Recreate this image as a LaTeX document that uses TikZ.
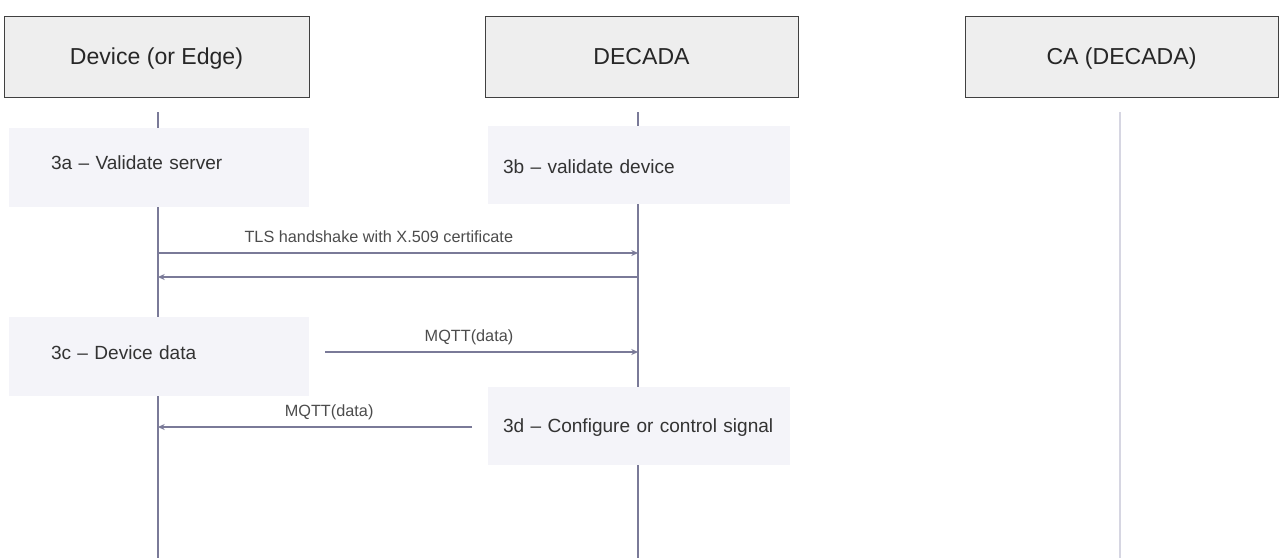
\documentclass[tikz,border=0pt]{standalone}
\usepackage{fontspec}
\setmainfont{Liberation Sans}
\usetikzlibrary{arrows.meta, positioning}
\definecolor{lineblue}{HTML}{7A7A98}
\definecolor{lightline}{HTML}{D6D6E2}
\definecolor{headfill}{HTML}{EEEEEE}
\definecolor{notefill}{HTML}{F4F4F9}

\begin{document}
\begin{tikzpicture}[
    x=0.75pt, y=-0.75pt,
    node distance=132pt,
    participant/.style={draw=black!75, line width=0.75pt, fill=headfill, minimum height=60.75pt, inner sep=0pt, outer sep=0pt, text height=12pt, text depth=0pt, font=\fontsize{17.3}{20}\selectfont, text=black!85},
    note/.style={fill=notefill, minimum height=59pt, inner ysep=0pt, text height=10pt, text depth=0pt, align=left, font=\fontsize{14.3}{17}\selectfont, text=black!80},
    lifeline/.style={draw=lineblue, line width=1.6pt},
    arrow/.style={-{Stealth[length=5pt, width=4.5pt]}, draw=lineblue, line width=1.2pt},
    msg/.style={anchor=base, yshift=8pt, inner sep=0pt, font=\fontsize{12.2}{14}\selectfont, text=black!70}
]
\useasboundingbox (0,0) rectangle (1284,558);

% Participants
\node[participant, minimum width=228.75pt] (dev) at (156.5,56.5) {Device (or Edge)};
\node[participant, minimum width=234.75pt, right=of dev] (decada) {DECADA};
\node[participant, minimum width=234.75pt, right=125.25pt of decada] (ca) {CA (DECADA)};

% Lifelines
\coordinate (dev-top) at (158,112);
\coordinate (dev-bot) at (158,558);
\coordinate (decada-top) at (638,112);
\coordinate (decada-bot) at (638,558);
\coordinate (ca-top) at (1120,112);
\coordinate (ca-bot) at (1120,558);
\draw[lifeline] (dev-top) -- (dev-bot);
\draw[lifeline] (decada-top) -- (decada-bot);
\draw[lifeline, draw=lightline] (ca-top) -- (ca-bot);

% Notes
\node[note, text width=162pt, inner xsep=31.5pt, text depth=6.8pt] (n3a) at (159,167.5) {3a – Validate server};
\node[note, text width=204pt, inner xsep=11.25pt, text height=13.2pt] (n3b) at (639,165) {3b – validate device};
\node[note, text width=162pt, inner xsep=31.5pt, text depth=5.2pt] (n3c) at (159,356.5) {3c – Device data};
\node[note, text width=204pt, inner xsep=11.25pt] (n3d) at (639,426) {3d – Configure or control signal};

% Arrows
\coordinate (dev-tls) at (158,253);
\coordinate (decada-tls) at (638,253);
\coordinate (dev-ack) at (158,277);
\coordinate (decada-ack) at (638,277);
\coordinate (data-in) at (325,352);
\coordinate (decada-data) at (638,352);
\coordinate (ctrl-out) at (472,427);
\coordinate (dev-ctrl) at (158,427);
\draw[arrow] (dev-tls) -- node[msg, pos=0.46] {TLS handshake with X.509 certificate} (decada-tls);
\draw[arrow] (decada-ack) -- (dev-ack);
\draw[arrow] (data-in) -- node[msg, pos=0.46] {MQTT(data)} (decada-data);
\draw[arrow] (ctrl-out) -- node[msg, pos=0.455] {MQTT(data)} (dev-ctrl);

\end{tikzpicture}
\end{document}
